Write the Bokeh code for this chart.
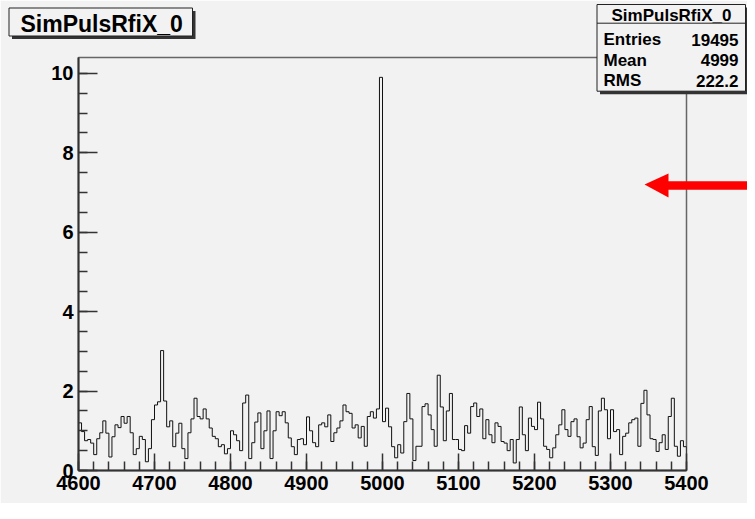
from bokeh.plotting import figure
from bokeh.models import Range1d, SingleIntervalTicker
from bokeh.core.properties import value
from bokeh.embed import file_html
from bokeh.resources import INLINE

# ---------------- data ----------------
hist_name = "SimPulsRfiX_0"
x_start = 4600
x_end = 5400
bin_width = 4
counts = [
    1.20, 0.98, 0.75, 0.78, 0.69, 0.40, 0.80, 0.95, 1.25, 0.94,
    0.34, 0.85, 1.15, 1.08, 1.36, 1.19, 1.36, 0.95, 0.40, 0.55,
    0.86, 0.78, 0.22, 0.55, 1.28, 1.65, 1.73, 3.02, 1.75, 1.10,
    1.25, 0.60, 0.94, 1.19, 0.55, 0.30, 0.95, 1.30, 1.82, 1.36,
    1.30, 1.55, 1.30, 1.07, 0.86, 0.80, 0.60, 0.65, 0.42, 0.55,
    1.00, 0.90, 0.75, 0.50, 1.70, 1.90, 0.30, 0.70, 1.22, 1.45,
    0.55, 1.00, 1.50, 0.30, 1.00, 1.48, 1.38,
    1.48, 1.20, 0.82, 0.60, 0.40, 0.78, 0.80, 0.65, 1.35, 1.00,
    0.70, 0.60, 1.15, 1.20, 1.10, 1.40, 0.73, 0.95, 1.07, 1.25,
    1.65, 1.48, 1.44, 1.07, 1.15, 0.82, 1.11, 0.61, 1.36, 1.48,
    1.32, 1.55, 9.90, 1.23, 1.57, 1.10, 0.60, 0.32, 0.65, 0.44,
    1.23, 1.94, 1.30, 0.25, 0.61, 0.61, 1.61, 1.68, 1.40, 1.03,
    0.61, 2.40, 1.60, 0.75, 1.50, 1.94, 0.78, 0.78, 0.53, 0.50,
    1.13, 0.94, 1.61, 1.70, 1.36, 1.55, 0.80,
    1.28, 0.90, 0.70, 1.20, 1.11, 0.73, 0.69, 0.50, 0.78, 0.19,
    0.78, 1.60, 0.90, 0.50, 1.32, 1.11, 1.03, 1.72, 1.30, 0.61,
    0.53, 0.32, 0.57, 0.90, 1.15, 1.53, 1.03, 0.86, 1.23, 1.30,
    0.85, 0.57, 0.69, 1.28, 1.61, 0.60, 0.38, 1.50, 1.82, 1.53,
    0.80, 1.53, 0.98, 1.03, 0.40, 0.86, 0.94, 1.20, 1.28, 1.32,
    0.61, 1.69, 2.02, 1.40, 0.80, 0.78, 0.48, 0.70, 0.90, 0.53,
    1.36, 1.82, 0.61, 0.36, 0.75, 0.60,
]
y_max = 10.4
x_tick_interval = 100
y_tick_interval = 2
stat_names = ["Entries", "Mean", "RMS"]
stat_values = ["19495", "4999", "222.2"]

# histogram outline built from the bins
edges = [x_start + bin_width * i for i in range(len(counts) + 1)]
hx = [edges[0]]
hy = [0]
for i, c in enumerate(counts):
    hx += [edges[i], edges[i + 1]]
    hy += [c, c]
hx.append(edges[-1])
hy.append(0)

BG = "#f2f2f2"
FONT = "Liberation Sans"

W, H = 747, 503
FL, FR, FT, FB = 78, 686, 57, 470  # frame box in figure pixels

p = figure(width=W, height=H, output_backend="svg", toolbar_location=None,
           x_range=Range1d(x_start, x_end), y_range=Range1d(0, y_max),
           min_border_left=FL, min_border_right=W - FR,
           min_border_top=FT, min_border_bottom=H - FB,
           background_fill_color=BG, border_fill_color=BG,
           outline_line_color="#666666", outline_line_width=1.5)
p.grid.visible = False

p.line(hx, hy, line_color="#111111", line_width=1)

p.xaxis.ticker = SingleIntervalTicker(interval=x_tick_interval, num_minor_ticks=5)
p.yaxis.ticker = SingleIntervalTicker(interval=y_tick_interval, num_minor_ticks=4)
for ax in (p.xaxis[0], p.yaxis[0]):
    ax.axis_line_color = "#333333"
    ax.axis_line_width = 2
    ax.major_tick_out = 0
    ax.minor_tick_out = 0
    ax.major_tick_line_color = "#333333"
    ax.minor_tick_line_color = "#333333"
    ax.major_tick_line_width = 1.5
    ax.minor_tick_line_width = 1.5
    ax.major_label_text_font = FONT
    ax.major_label_text_font_style = "bold"
    ax.major_label_text_font_size = "20px"
    ax.major_label_text_color = "black"
p.xaxis.major_tick_in = 17
p.xaxis.minor_tick_in = 9
p.yaxis.major_tick_in = 19
p.yaxis.minor_tick_in = 9
p.xaxis.major_label_standoff = 5
p.yaxis.major_label_standoff = 5


# decorations: positions given in figure pixels, mapped through the scales
def dx(fx):
    return x_start + (fx - FL) * (x_end - x_start) / (FR - FL)


def dy(fy):
    return (FB - fy) * y_max / (FB - FT)


def box(x0, y0, x1, y1, fill, line=None, lw=1.0):
    p.patch([dx(x0), dx(x1), dx(x1), dx(x0)], [dy(y0), dy(y0), dy(y1), dy(y1)],
            fill_color=fill, line_color=line, line_width=lw, level="overlay")


def label(fx, fy, text, size, align="left"):
    p.text(x=[dx(fx)], y=[dy(fy)], text=[text], text_font=value(FONT),
           text_font_style="bold", text_font_size=size, text_color="black",
           text_align=align, text_baseline="middle", level="overlay")


# title box
box(11.5, 10.5, 195, 38.5, "#333333")
box(8.5, 7.5, 192, 35.5, BG, "#222222", 1)
label(20, 23.3, hist_name, "23px")

# stats box
box(599.5, 7, 748, 93.7, "#333333")
box(596.5, 4, 745, 90.7, BG, "#222222", 1)
p.line([dx(596.5), dx(745)], [dy(22.7), dy(22.7)], line_color="#222222",
       line_width=1, level="overlay")
label(671, 15.3, hist_name, "17px", "center")
for i, (n, v) in enumerate(zip(stat_names, stat_values)):
    mid = 39.3 + 20.4 * i
    label(603, mid, n, "17px", "left")
    label(738, mid, v, "17px", "right")

# red arrow
p.patch([dx(644), dx(668), dx(668), dx(760), dx(760), dx(668), dx(668)],
        [dy(184), dy(173), dy(180.7), dy(180.7), dy(189.3), dy(189.3), dy(197)],
        fill_color="#ff0000", line_color=None, level="overlay")

open("out.html", "w").write(file_html(p, INLINE))
